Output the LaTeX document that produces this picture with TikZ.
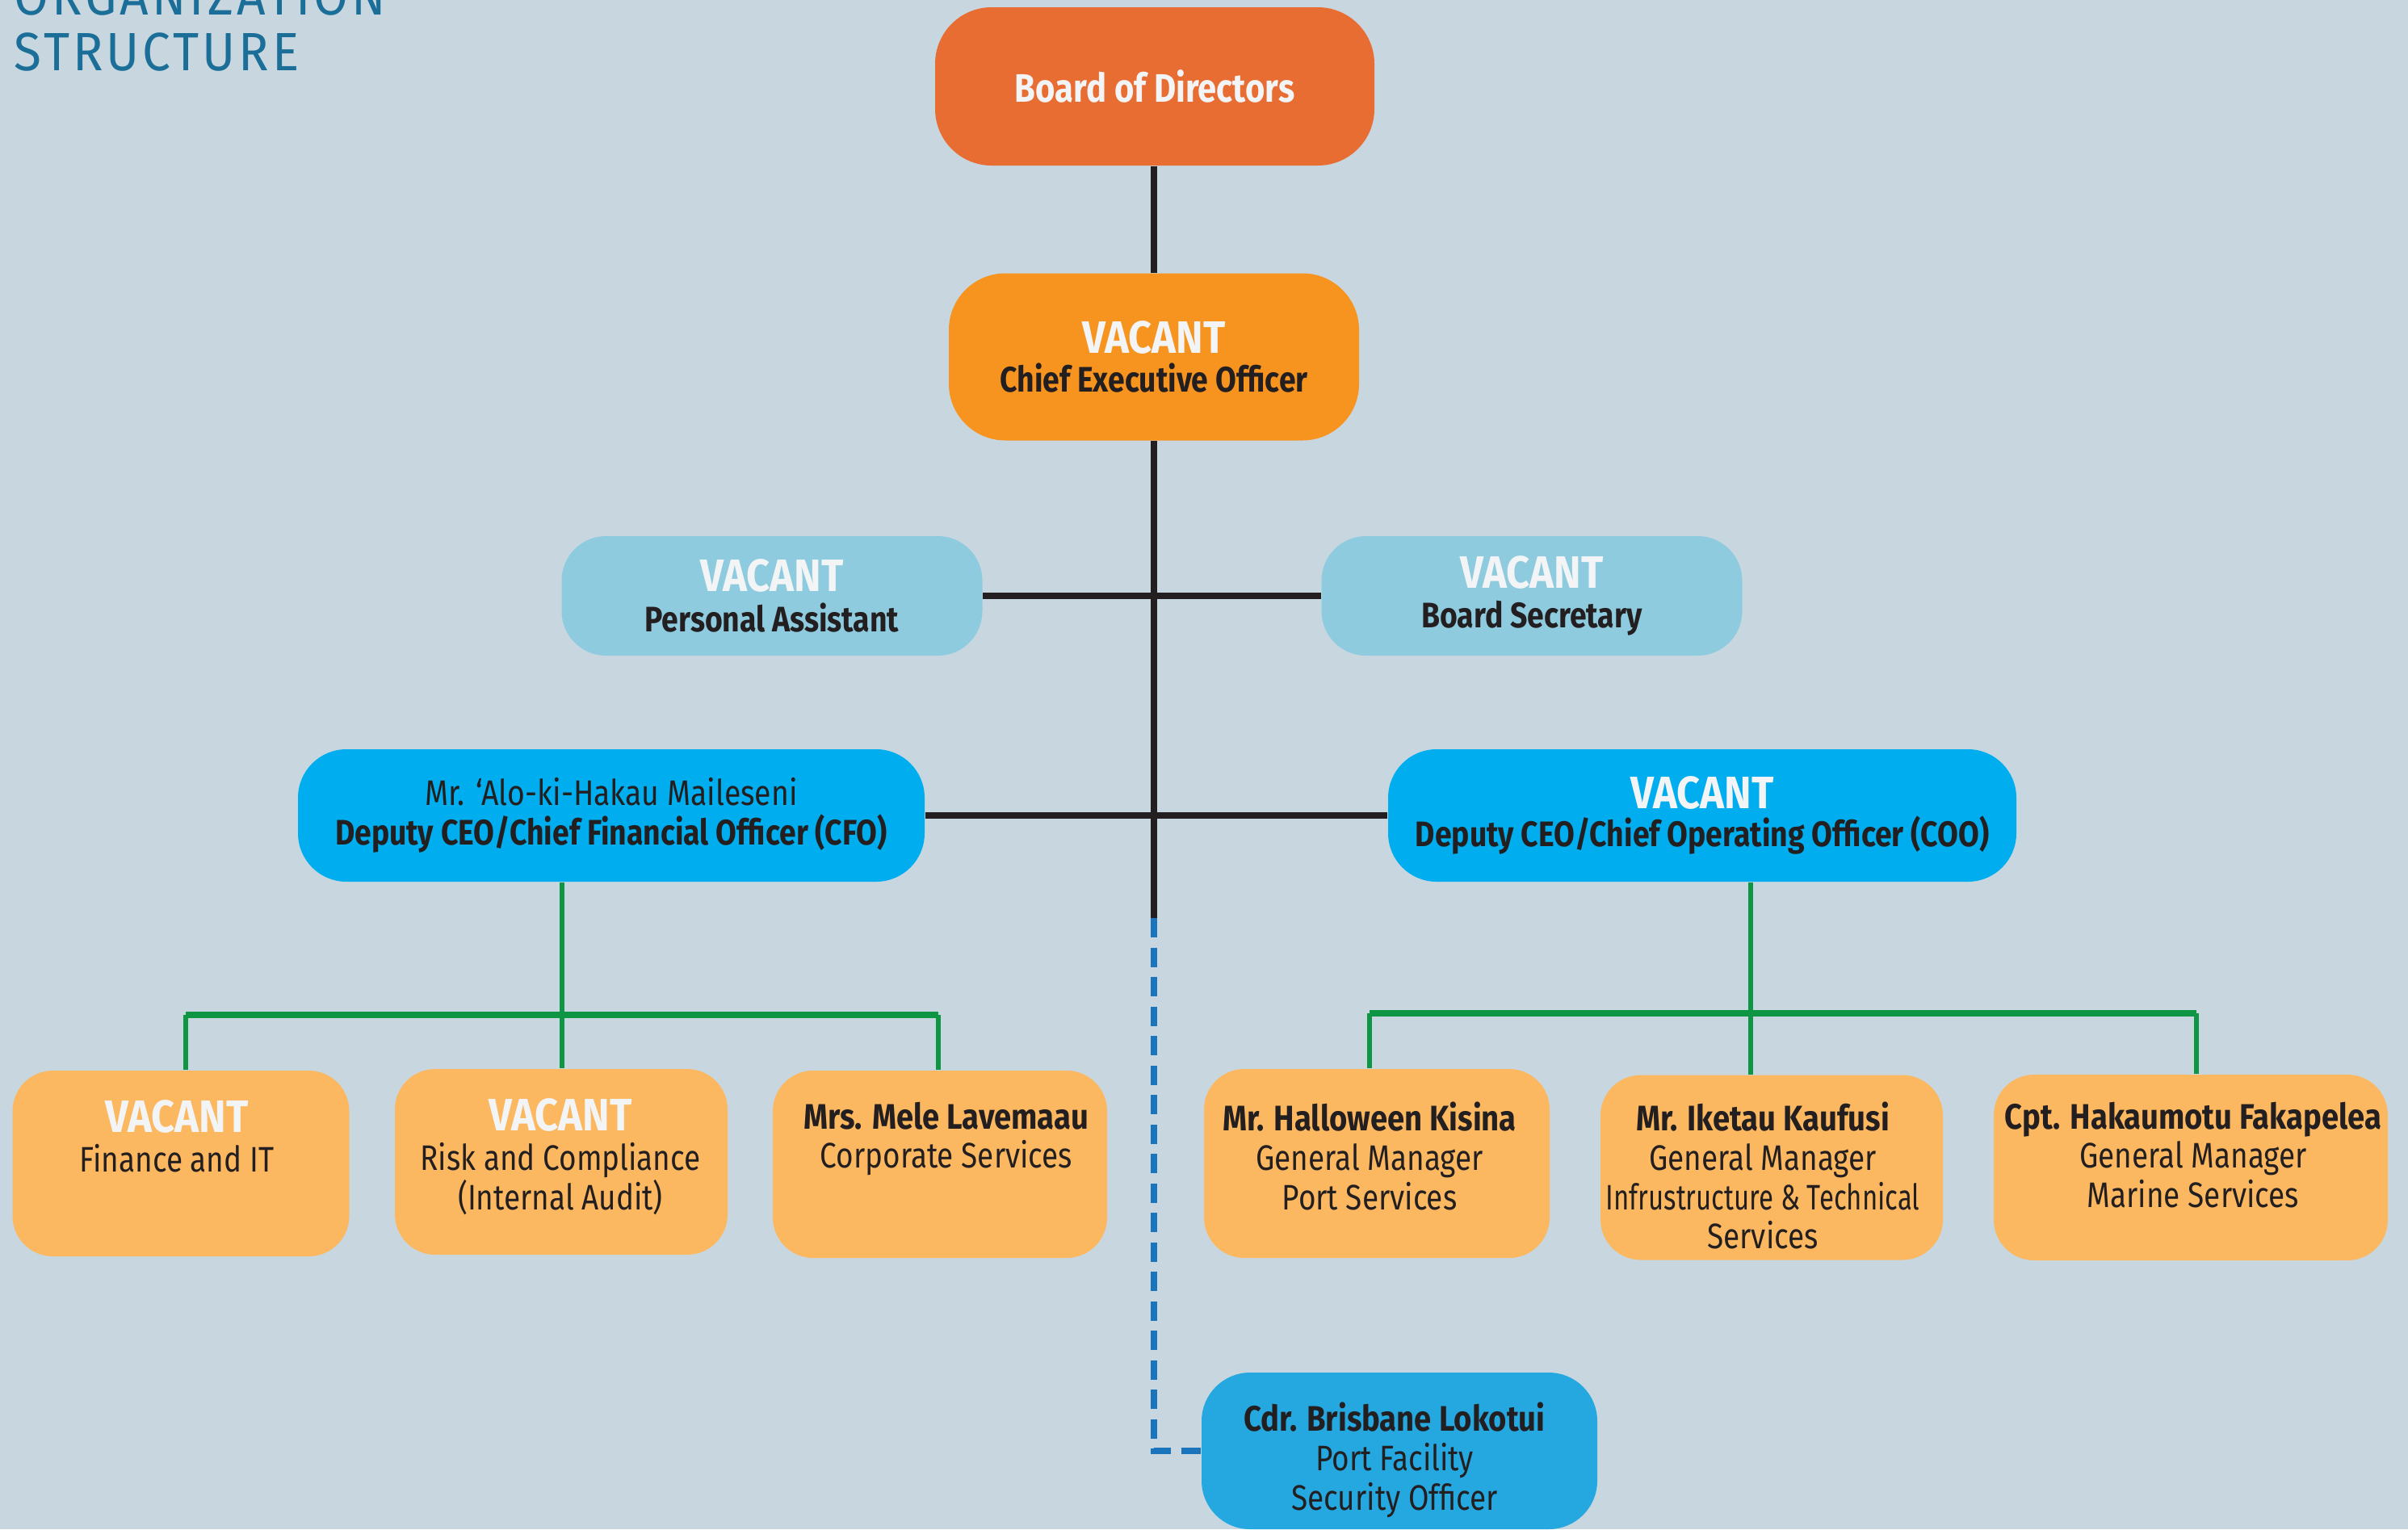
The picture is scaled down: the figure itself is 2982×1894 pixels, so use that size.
\documentclass[tikz,border=0pt]{standalone}
\usepackage{fontspec}
\setmainfont{Fira Sans}
\newfontfamily\hd{Fira Sans}[FakeStretch=0.85]
\newfontfamily\vf{Fira Sans}[FakeStretch=0.9]
\newfontfamily\cn{Fira Sans}[FakeStretch=0.84]
\newfontfamily\cnn{Fira Sans}[FakeStretch=0.75]
\newfontfamily\cnb{Fira Sans}[FakeStretch=0.87]
\newfontfamily\ttl{Fira Sans}[LetterSpace=6, FakeStretch=0.93]
\definecolor{bg}{HTML}{C8D7DF}
\definecolor{cboard}{HTML}{E86D33}
\definecolor{cceo}{HTML}{F7941F}
\definecolor{cpa}{HTML}{8FCBDF}
\definecolor{cdep}{HTML}{00ADEE}
\definecolor{ccdr}{HTML}{25A8E0}
\definecolor{cbot}{HTML}{FBB860}
\definecolor{cgreen}{HTML}{0E9645}
\definecolor{cblack}{HTML}{231F20}
\definecolor{cdash}{HTML}{1B75BC}
\definecolor{ctitle}{HTML}{1A6E98}
\definecolor{cwhite}{HTML}{F2F4F6}
\tikzset{
  x=0.1mm, y=-0.1mm,
  topbox/.style={rectangle, rounded corners=7mm, align=center, inner sep=0pt, text=cblack},
  botbox/.style={rectangle, rounded corners=5mm, fill=cbot, inner sep=0pt},
  bottxt/.style={anchor=north, align=center, inner sep=0pt, text=cblack,
     font=\cn\fontsize{12.5}{13.9}\selectfont},
  blk/.style={draw=cblack, line width=0.75mm},
  gthin/.style={draw=cgreen, line width=0.65mm},
  gthick/.style={draw=cgreen, line width=0.85mm},
  dsh/.style={draw=cdash, line width=0.75mm, dash pattern=on 2.4mm off 1.25mm},
}
\newcommand{\vac}{{\color{cwhite}\vf\fontsize{16}{17}\selectfont\bfseries VACANT}}
\newcommand{\nm}[1]{{\cnb\bfseries #1}}
\begin{document}
\begin{tikzpicture}
\useasboundingbox (0,0) rectangle (2982,1894);
\clip (0,0) rectangle (2982,1894);
\fill[bg] (0,0) rectangle (2982,1894);
% title
\node[anchor=base west, inner sep=0pt, text=ctitle, font=\ttl\fontsize{19}{20}\selectfont] (t1) at (17,18) {ORGANIZATION};
\node[anchor=base west, inner sep=0pt, text=ctitle, font=\ttl\fontsize{19}{20}\selectfont] (t2) at (17,87) {STRUCTURE};
% top boxes
\node[topbox, fill=cboard, minimum width=54.4mm, minimum height=19.6mm, font=\hd\bfseries\fontsize{14}{16}\selectfont, text=cwhite] (board) at (1430,107) {Board of Directors};
\node[topbox, fill=cceo, minimum width=50.8mm, minimum height=20.7mm, font=\hd\bfseries\fontsize{12.5}{15}\selectfont] (ceo) at (1429,442) {\vac\\[-0.4mm]Chief Executive Officer};
\node[topbox, fill=cpa, minimum width=52.1mm, minimum height=14.8mm, rounded corners=5.5mm, font=\hd\bfseries\fontsize{12.5}{15}\selectfont] (pa) at (956,738) {\vac\\[-0.3mm]Personal Assistant};
\node[topbox, fill=cpa, minimum width=52.1mm, minimum height=14.8mm, rounded corners=5.5mm, font=\hd\bfseries\fontsize{12.5}{15}\selectfont] (bs) at (1897,738) {\vac\\[-0.3mm]Board Secretary};
\node[topbox, fill=cdep, minimum width=77.6mm, minimum height=16.4mm, rounded corners=6mm, font=\hd\fontsize{12.5}{15}\selectfont] (cfo) at (757,1010) {Mr. ‘Alo-ki-Hakau Maileseni\\[-0.4mm]\bfseries Deputy CEO/Chief Financial Officer (CFO)};
\node[topbox, fill=cdep, minimum width=77.8mm, minimum height=16.4mm, rounded corners=6mm, font=\hd\bfseries\fontsize{12.5}{15}\selectfont] (coo) at (2108,1010) {\vac\\[-0.6mm]Deputy CEO/Chief Operating Officer (COO)};
% bottom boxes
\node[botbox, minimum width=41.7mm, minimum height=23.0mm] (fin) at (224,1441) {};
\node[botbox, minimum width=41.2mm, minimum height=23.0mm] (risk) at (695,1439) {};
\node[botbox, minimum width=41.4mm, minimum height=23.2mm] (mele) at (1164,1442) {};
\node[botbox, minimum width=42.8mm, minimum height=23.4mm] (hal) at (1705,1441) {};
\node[botbox, minimum width=42.4mm, minimum height=22.9mm] (ike) at (2194,1446) {};
\node[botbox, minimum width=48.8mm, minimum height=23.0mm] (cpt) at (2713,1446) {};
\node[rectangle, rounded corners=6mm, fill=ccdr, minimum width=49.0mm, minimum height=19.4mm, inner sep=0pt] (cdr) at (1733,1797) {};
% bottom texts
\node[bottxt] (fin-t) at (219,1362) {\vac\\Finance and IT};
\node[bottxt] (risk-t) at (694,1360) {\vac\\Risk and Compliance\\(Internal Audit)};
\node[bottxt] (mele-t) at (1172,1364) {\nm{Mrs. Mele Lavemaau}\\Corporate Services};
\node[bottxt] (hal-t) at (1696,1364) {\nm{Mr. Halloween Kisina}\\General Manager\\Port Services};
\node[bottxt] (ike-t) at (2183,1364) {\nm{Mr. Iketau Kaufusi}\\General Manager\\{\cnn Infrustructure \& Technical}\\Services};
\node[bottxt] (cpt-t) at (2716,1364) {\nm{Cpt. Hakaumotu Fakapelea}\\General Manager\\Marine Services};
\node[bottxt] (cdr-t) at (1727,1736) {\nm{Cdr. Brisbane Lokotui}\\Port Facility\\Security Officer};
% connectors
\coordinate (tend) at (1429,1137);
\coordinate (lbar) at (696,1257);
\coordinate (rbar) at (2168,1255);
\coordinate (dfin) at (230,1257);
\coordinate (dmele) at (1162,1257);
\coordinate (dhal) at (1696,1255);
\coordinate (dcpt) at (2720,1255);
\draw[blk] (board.south -| tend) -- (ceo.north -| tend);
\draw[blk] (ceo.south -| tend) -- (tend);
\draw[blk] (pa.east) -- (bs.west);
\draw[blk] (cfo.east) -- (coo.west);
\draw[dsh] (tend) |- (cdr.west);
\draw[gthin] (cfo.south -| lbar) -- (lbar) -- (risk.north -| lbar);
\draw[gthin] (dfin) -- (fin.north -| dfin);
\draw[gthin] (dmele) -- (mele.north -| dmele);
\draw[gthick] (dfin) -- (dmele);
\draw[gthin] (coo.south -| rbar) -- (rbar) -- (ike.north -| rbar);
\draw[gthin] (dhal) -- (hal.north -| dhal);
\draw[gthin] (dcpt) -- (cpt.north -| dcpt);
\draw[gthick] (dhal) -- (dcpt);
\end{tikzpicture}
\end{document}
